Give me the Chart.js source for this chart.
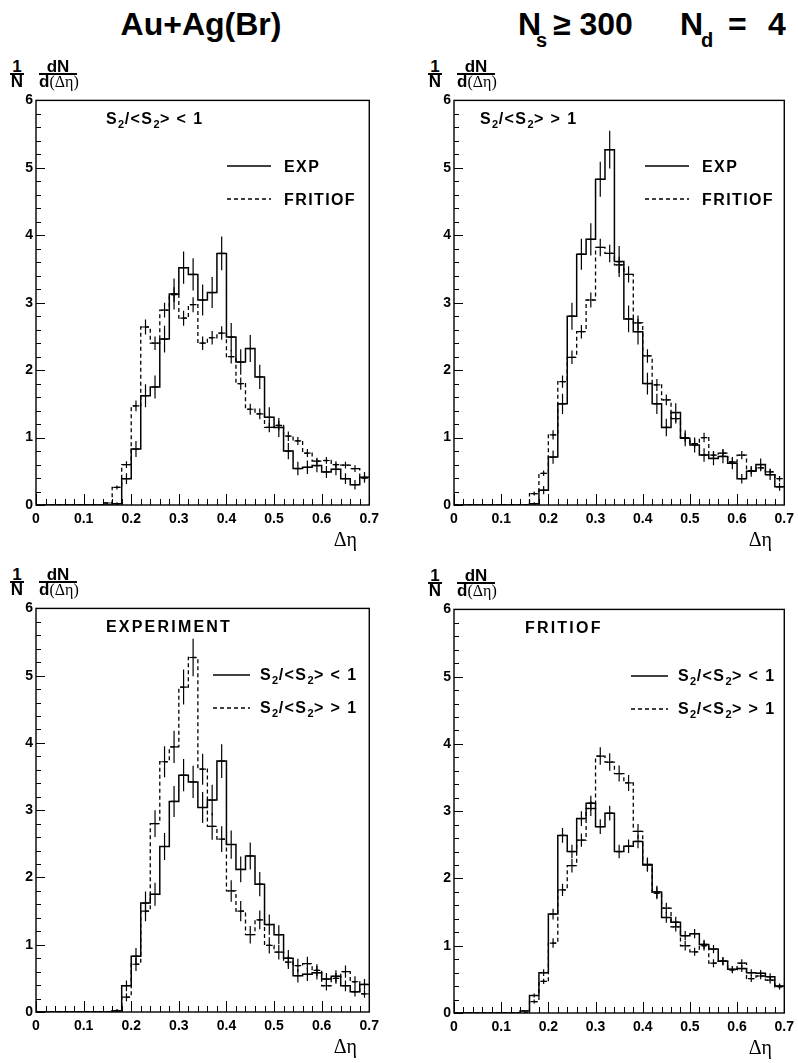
<!DOCTYPE html>
<html>
<head>
<meta charset="utf-8">
<script src="https://cdn.jsdelivr.net/npm/chart.js@4.4.1/dist/chart.umd.min.js"></script>
<style>
  body { margin: 0; width: 798px; height: 1063px; background: #fff; position: relative; overflow: hidden;
         font-family: "Liberation Sans", Arial, sans-serif; font-weight: bold; color: #000; }
  .abs { position: absolute; white-space: nowrap; line-height: 1; }
  .serif { font-family: "Liberation Serif", "DejaVu Serif", serif; font-weight: normal; }
  .lab { font-size: 16px; letter-spacing: 1.4px; }
  .lab sub { font-size: 11px; vertical-align: -4px; line-height: 0; letter-spacing: 0.5px; }
  .wide { letter-spacing: 2.2px; }
  .yt { font-size: 17px; }
  .big { font-size: 32px; }
  .sub { font-size: 20px; }
  canvas { position: absolute; }
</style>
</head>
<body>
<div class="abs big" style="left:0;width:402px;text-align:center;top:8px">Au+Ag(Br)</div>
<div class="abs big" style="left:518px;top:8px">N</div>
<div class="abs sub" style="left:536px;top:30px">s</div>
<div class="abs big" style="left:553px;top:8px">≥ 300</div>
<div class="abs big" style="left:680px;top:8px">N</div>
<div class="abs sub" style="left:701px;top:30px">d</div>
<div class="abs big" style="left:728px;top:8px">=</div>
<div class="abs big" style="left:768px;top:8px">4</div>

<script>
// bin edges in delta-eta
const binEdges = [0.00, 0.02, 0.04, 0.06, 0.08, 0.10, 0.12, 0.14, 0.16, 0.18,
                  0.20, 0.22, 0.24, 0.26, 0.28, 0.30, 0.32, 0.34, 0.36, 0.38,
                  0.40, 0.42, 0.44, 0.46, 0.48, 0.50, 0.52, 0.54, 0.56, 0.58,
                  0.60, 0.62, 0.64, 0.66, 0.68, 0.70];

// experiment, S2/<S2> < 1
const expLow = [0, 0, 0, 0, 0, 0, 0, 0, 0.02, 0.39,
                0.83, 1.62, 1.75, 2.46, 3.13, 3.52, 3.42, 3.04, 3.15, 3.73,
                2.49, 2.12, 2.32, 1.90, 1.30, 1.15, 0.80, 0.54, 0.56, 0.585,
                0.49, 0.53, 0.39, 0.30, 0.41];
const expLowErr = [0, 0, 0, 0, 0, 0, 0, 0, 0.02, 0.08,
                   0.12, 0.17, 0.17, 0.20, 0.23, 0.24, 0.24, 0.23, 0.23, 0.25,
                   0.21, 0.19, 0.20, 0.18, 0.15, 0.14, 0.12, 0.10, 0.10, 0.10,
                   0.09, 0.09, 0.08, 0.07, 0.08];

// experiment, S2/<S2> > 1
const expHigh = [0, 0, 0, 0, 0, 0, 0, 0, 0.02, 0.22,
                 0.71, 1.50, 2.80, 3.72, 3.94, 4.83, 5.27, 3.61, 2.76, 2.57,
                 1.80, 1.50, 1.15, 1.37, 0.99, 0.89, 0.74, 0.69, 0.72, 0.62,
                 0.39, 0.50, 0.60, 0.45, 0.27];
const expHighErr = [0, 0, 0, 0, 0, 0, 0, 0, 0.02, 0.06,
                    0.10, 0.15, 0.20, 0.23, 0.24, 0.26, 0.28, 0.23, 0.20, 0.19,
                    0.16, 0.15, 0.13, 0.14, 0.12, 0.11, 0.10, 0.10, 0.10, 0.09,
                    0.07, 0.08, 0.09, 0.08, 0.06];

// FRITIOF, S2/<S2> < 1
const fritLow = [0, 0, 0, 0, 0, 0, 0, 0.03, 0.26, 0.60,
                 1.47, 2.64, 2.40, 2.89, 3.12, 2.77, 2.97, 2.40, 2.48, 2.55,
                 2.20, 1.80, 1.42, 1.35, 1.15, 1.18, 1.02, 0.95, 0.77, 0.65,
                 0.66, 0.60, 0.59, 0.54, 0.40];
const fritLowErr = [0, 0, 0, 0, 0, 0, 0, 0.01, 0.03, 0.05,
                    0.08, 0.11, 0.10, 0.11, 0.11, 0.11, 0.11, 0.10, 0.10, 0.10,
                    0.10, 0.09, 0.08, 0.08, 0.07, 0.07, 0.07, 0.06, 0.06, 0.05,
                    0.05, 0.05, 0.05, 0.05, 0.04];

// FRITIOF, S2/<S2> > 1
const fritHigh = [0, 0, 0, 0, 0, 0, 0, 0, 0.17, 0.47,
                  1.04, 1.83, 2.19, 2.57, 3.04, 3.82, 3.73, 3.56, 3.42, 2.70,
                  2.21, 1.78, 1.56, 1.28, 1.00, 0.91, 1.00, 0.74, 0.77, 0.64,
                  0.74, 0.51, 0.55, 0.49, 0.39];
const fritHighErr = [0, 0, 0, 0, 0, 0, 0, 0, 0.03, 0.04,
                     0.07, 0.09, 0.10, 0.10, 0.11, 0.13, 0.13, 0.12, 0.12, 0.11,
                     0.10, 0.09, 0.08, 0.07, 0.07, 0.06, 0.07, 0.06, 0.06, 0.05,
                     0.06, 0.05, 0.05, 0.05, 0.04];

const S2LT = 'S<sub>2</sub>/&lt;S<sub>2</sub>&gt; &lt; 1';
const S2GT = 'S<sub>2</sub>/&lt;S<sub>2</sub>&gt; &gt; 1';

const panels = [
  { area: [36, 97, 371, 505], label: S2LT, labelX: 70,
    solid: [expLow, expLowErr], dashed: [fritLow, fritLowErr],
    legend: ['EXP', 'FRITIOF'], legX: [191, 235, 248], dy: 0 },
  { area: [454, 97, 786, 505], label: S2GT, labelX: 26,
    solid: [expHigh, expHighErr], dashed: [fritHigh, fritHighErr],
    legend: ['EXP', 'FRITIOF'], legX: [191, 235, 248], dy: 0 },
  { area: [36, 605, 371, 1012], label: '<span class="wide">EXPERIMENT</span>', labelX: 70,
    solid: [expLow, expLowErr], dashed: [expHigh, expHighErr],
    legend: [S2LT, S2GT], legX: [177, 214, 224], dy: 1 },
  { area: [454, 606, 786, 1013], label: '<span class="wide">FRITIOF</span>', labelX: 71,
    solid: [fritLow, fritLowErr], dashed: [fritHigh, fritHighErr],
    legend: [S2LT, S2GT], legX: [177, 214, 224], dy: 1 }
];

const tickFont = { family: '"Liberation Sans", Arial, sans-serif', size: 14, weight: 'bold' };

function histPoints(values) {
  const pts = values.map((v, i) => ({ x: binEdges[i], y: v }));
  pts.push({ x: binEdges[values.length], y: values[values.length - 1] });
  return pts;
}

function errPoints(values, errs) {
  const pts = [];
  values.forEach((v, i) => {
    if (!v) return;
    const c = (binEdges[i] + binEdges[i + 1]) / 2;
    const h = (binEdges[i + 1] - binEdges[i]) * 0.35;
    pts.push({ x: c, y: v - errs[i] }, { x: c, y: v + errs[i] }, { x: c, y: null },
             { x: c - h, y: v }, { x: c + h, y: v }, { x: c, y: null });
  });
  return pts;
}

// ROOT style frame with inward ticks
const frame = {
  id: 'frame',
  afterDatasetsDraw(chart) {
    const { ctx, chartArea: a, scales: { x, y } } = chart;
    ctx.save();
    ctx.strokeStyle = '#000';
    ctx.lineWidth = 1.4;
    ctx.strokeRect(a.left, a.top, a.right - a.left, a.bottom - a.top);
    ctx.beginPath();
    x.ticks.forEach(t => {
      const px = Math.round(x.getPixelForValue(t.value)) + 0.5;
      ctx.moveTo(px, a.bottom);
      ctx.lineTo(px, a.bottom - (t.label ? 11 : 6));
    });
    y.ticks.forEach(t => {
      const py = Math.round(y.getPixelForValue(t.value)) + 0.5;
      ctx.moveTo(a.left, py);
      ctx.lineTo(a.left + (t.label ? 9 : 5), py);
    });
    ctx.lineWidth = 1;
    ctx.stroke();
    ctx.restore();
  }
};

function addHtml(html) {
  document.body.insertAdjacentHTML('beforeend', html);
}

function legendLine(x1, x2, y, dashed) {
  return `<svg style="position:absolute;left:${x1}px;top:${y - 2}px" width="${x2 - x1}" height="4">` +
    `<line x1="0" y1="2" x2="${x2 - x1}" y2="2" stroke="#000" stroke-width="1.4"` +
    (dashed ? ' stroke-dasharray="4,3"' : '') + '/></svg>';
}

panels.forEach(p => {
  const [l, t, r, b] = p.area;
  const padL = 36, padT = 8, padR = 14, padB = 26;

  const cv = document.createElement('canvas');
  cv.width = r - l + padL + padR;
  cv.height = b - t + padT + padB;
  cv.style.left = (l - padL) + 'px';
  cv.style.top = (t - padT) + 'px';
  document.body.appendChild(cv);

  new Chart(cv, {
    type: 'line',
    data: {
      datasets: [
        { data: histPoints(p.solid[0]), stepped: 'before', borderColor: '#000', borderWidth: 1.5 },
        { data: errPoints(p.solid[0], p.solid[1]), borderColor: '#000', borderWidth: 1.2, spanGaps: false },
        { data: histPoints(p.dashed[0]), stepped: 'before', borderColor: '#000', borderWidth: 1.3, borderDash: [4, 3] },
        { data: errPoints(p.dashed[0], p.dashed[1]), borderColor: '#000', borderWidth: 1.2, spanGaps: false }
      ]
    },
    options: {
      responsive: false,
      animation: false,
      devicePixelRatio: 1,
      layout: { padding: { left: 0, top: padT, right: padR, bottom: 0 } },
      elements: { point: { radius: 0 }, line: { tension: 0, borderCapStyle: 'butt' } },
      plugins: { legend: { display: false }, tooltip: { enabled: false } },
      scales: {
        x: {
          type: 'linear', min: 0, max: 0.7,
          grid: { display: false, drawTicks: false }, border: { display: false },
          ticks: {
            stepSize: 0.02, autoSkip: false, maxRotation: 0, padding: 6, color: '#000', font: tickFont,
            callback: v => Math.abs(v * 10 - Math.round(v * 10)) < 1e-6 ? String(Math.round(v * 10) / 10) : ''
          },
          afterFit: s => { s.height = padB; }
        },
        y: {
          min: 0, max: 6,
          grid: { display: false, drawTicks: false }, border: { display: false },
          ticks: {
            stepSize: 0.2, autoSkip: false, padding: 3, color: '#000', font: tickFont,
            callback: v => Math.abs(v - Math.round(v)) < 1e-6 ? String(Math.round(v)) : ''
          },
          afterFit: s => { s.width = padL; }
        }
      }
    },
    plugins: [frame]
  });

  // y axis title: (1/N) dN/d(Δη)
  addHtml(
    `<div class="abs yt" style="left:${l - 26}px;top:${t - 39.5}px;width:14px;text-align:center">1</div>` +
    `<div class="abs" style="left:${l - 26}px;top:${t - 24}px;width:14px;height:1.6px;background:#000"></div>` +
    `<div class="abs yt" style="left:${l - 26}px;top:${t - 24.5}px;width:14px;text-align:center">N</div>` +
    `<div class="abs yt" style="left:${l + 3}px;top:${t - 39.5}px;width:38px;text-align:center">dN</div>` +
    `<div class="abs" style="left:${l + 3}px;top:${t - 24}px;width:38px;height:1.6px;background:#000"></div>` +
    `<div class="abs yt" style="left:${l + 3}px;top:${t - 24}px;width:38px;text-align:center">d<span class="serif" style="font-size:16px">(Δη)</span></div>`
  );
  // x axis title
  addHtml(`<div class="abs serif" style="left:${r - 64}px;top:${b + 24}px;width:50px;text-align:right;font-size:20px">Δη</div>`);
  // panel label
  addHtml(`<div class="abs lab" style="left:${l + p.labelX}px;top:${t + 14}px">${p.label}</div>`);
  // legend
  const [x1, x2, tx] = p.legX;
  addHtml(legendLine(l + x1, l + x2, t + 69 + p.dy, false) +
          `<div class="abs lab" style="left:${l + tx}px;top:${t + 61.5}px">${p.legend[0]}</div>` +
          legendLine(l + x1, l + x2, t + 102 + p.dy, true) +
          `<div class="abs lab" style="left:${l + tx}px;top:${t + 94.5}px">${p.legend[1]}</div>`);
});
</script>
</body>
</html>
